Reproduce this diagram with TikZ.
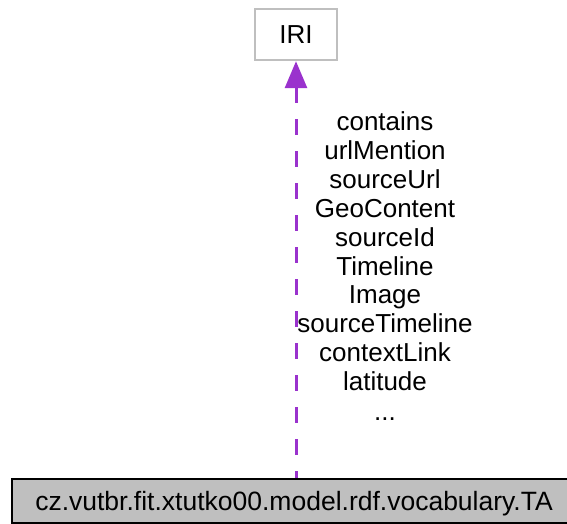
\documentclass[tikz,border=0pt]{standalone}
\usepackage{fontspec}
\setmainfont{Liberation Sans}
\usetikzlibrary{arrows.meta}
\definecolor{EdgePurple}{HTML}{9A32CD}
\definecolor{NodeGrey}{HTML}{BFBFBF}

\begin{document}
\begin{tikzpicture}[x=1pt,y=-1pt,
    classbox/.style={draw,line width=2.4pt,inner sep=0pt,
      text height=18.7pt,text depth=0pt,
      font=\fontsize{26}{28.8}\selectfont},
    edgelabel/.style={anchor=base,inner sep=0pt,
      font=\fontsize{26}{28.8}\selectfont},
    usesedge/.style={EdgePurple,line width=3pt,
      dash pattern=on 16pt off 16pt,
      {Triangle[length=27pt,width=22pt]}-}]
  \clip (0,0) rectangle (567,524);

  \node[classbox,draw=NodeGrey,fill=white,
    minimum width=82pt,minimum height=51pt] (iri) at (296,34.5) {IRI};
  \node[classbox,draw=black,fill=NodeGrey,
    minimum width=564pt,minimum height=44pt,
    font=\fontsize{26.5}{28.8}\selectfont] (ta) at (294,501)
    {cz.vutbr.fit.xtutko00.model.rdf.vocabulary.TA};

  \draw[usesedge] (iri.south) -- (iri.south |- ta.north);

  % member names on the edge
  \foreach \lbl [count=\i] in {contains,urlMention,sourceUrl,GeoContent,
      sourceId,Timeline,Image,sourceTimeline,contextLink,latitude}
    \node[edgelabel] (lbl\i) at (385,{131+28.8*(\i-1)}) {\lbl};
  \node[edgelabel] (lbldots) at (385,420) {...};
\end{tikzpicture}
\end{document}
